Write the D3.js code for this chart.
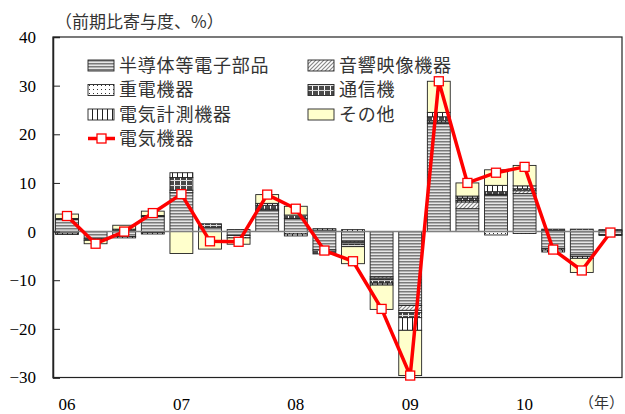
<!DOCTYPE html>
<html><head><meta charset="utf-8">
<script src="https://cdn.jsdelivr.net/npm/d3@7/dist/d3.min.js"></script>
<style>
body{margin:0;background:#fff;}
svg{display:block;}
</style></head>
<body>
<svg id="c" width="625" height="414"></svg>
<script>
const quarters = ["06Q1","06Q2","06Q3","06Q4","07Q1","07Q2","07Q3","07Q4","08Q1","08Q2","08Q3","08Q4","09Q1","09Q2","09Q3","09Q4","10Q1","10Q2","10Q3","10Q4"];
const yearLabels = ["06","07","08","09","10"];
const yTicks = [-30,-20,-10,0,10,20,30,40];
const seriesNames = ["半導体等電子部品","音響映像機器","重電機器","通信機","電気計測機器","その他"];
const lineName = "電気機器";
const semi  = [2.5,-1.5,-1.0,3.1,8.0,0.9,-0.8,4.3,2.7,-3.8,-2.0,-9.3,-15.2,22.2,4.7,7.5,7.8,-3.5,-4.8,-0.6];
const av    = [0,0,0.2,0,0,0,0,0,0,0,-0.3,-0.3,-1.0,0.3,1.4,0.2,0.6,0.2,0,-0.2];
const heavy = [-0.3,0,0,-0.2,0.5,0,-0.5,0.3,-0.5,0.3,-0.3,-0.3,-0.5,0.3,0.3,-0.7,-0.4,-0.3,-0.3,0];
const comm  = [0.2,-0.3,0.3,0.2,2.6,0.7,0.4,0.8,0.7,-0.8,-0.5,-0.7,-1.0,0.8,0.5,0.5,0.4,0.3,0.5,0.2];
const meas  = [-0.3,0,-0.3,-0.3,1.0,0,0,0.4,-0.4,0.3,0.4,-0.4,-2.6,0.9,0.4,1.3,0.6,-0.4,-0.4,0.2];
const other = [0.9,-0.7,0.8,0.9,-4.5,-3.6,-1.3,1.8,1.8,0,-3.5,-5.0,-9.3,6.4,2.7,3.2,4.2,0,-2.9,0];
const total = [3.2,-2.5,0.0,3.8,7.7,-2.0,-2.1,7.6,4.7,-3.9,-6.1,-15.9,-29.6,30.9,10.0,12.1,13.3,-3.7,-8.0,-0.2];

const series = [semi,av,heavy,comm,meas,other];
const fills = ["url(#pSemi)","url(#pAv)","url(#pHeavy)","url(#pComm)","url(#pMeas)","#ffffcc"];

const svg = d3.select("#c");
const L=53, R=622, T=37, B=377.5;
const x = d3.scaleBand().domain(quarters).range([52.7,624.7]).paddingInner(0.2).paddingOuter(0.1);
const y = d3.scaleLinear().domain([-30,40]).range([B,T]);

// patterns
const defs = svg.append("defs");
let p = defs.append("pattern").attr("id","pSemi").attr("patternUnits","userSpaceOnUse").attr("width",4).attr("height",3);
p.append("rect").attr("width",4).attr("height",3).attr("fill","#e6e6e6");
p.append("rect").attr("y",0).attr("width",4).attr("height",1.5).attr("fill","#7a7a7a");
p = defs.append("pattern").attr("id","pAv").attr("patternUnits","userSpaceOnUse").attr("width",4).attr("height",4);
p.append("rect").attr("width",4).attr("height",4).attr("fill","#fff");
p.append("path").attr("d","M-1,5 L5,-1 M-1,1 L1,-1 M3,5 L5,3").attr("stroke","#888").attr("stroke-width",1.2);
p = defs.append("pattern").attr("id","pHeavy").attr("patternUnits","userSpaceOnUse").attr("width",4).attr("height",4);
p.append("rect").attr("width",4).attr("height",4).attr("fill","#fff");
p.append("rect").attr("x",1).attr("y",1).attr("width",1).attr("height",1).attr("fill","#333");
p = defs.append("pattern").attr("id","pComm").attr("patternUnits","userSpaceOnUse").attr("width",6).attr("height",5);
p.append("rect").attr("width",6).attr("height",5).attr("fill","#4a4a4a");
p.append("rect").attr("x",0).attr("width",1).attr("height",5).attr("fill","#fff");
p.append("rect").attr("y",0).attr("width",6).attr("height",1).attr("fill","#ddd");
p = defs.append("pattern").attr("id","pMeas").attr("patternUnits","userSpaceOnUse").attr("width",5).attr("height",4);
p.append("rect").attr("width",5).attr("height",4).attr("fill","#fff");
p.append("rect").attr("x",2).attr("width",1).attr("height",4).attr("fill","#222");

// bars
const g = svg.append("g");
quarters.forEach((q,i)=>{
  let pos=0, neg=0;
  series.forEach((s,k)=>{
    const v = s[i];
    if(!v) return;
    let y0,y1;
    if(v>0){ y0=pos; y1=pos+v; pos=y1; } else { y0=neg; y1=neg+v; neg=y1; }
    g.append("rect").attr("x",x(q)).attr("width",x.bandwidth())
      .attr("y",y(Math.max(y0,y1))).attr("height",Math.abs(y(y0)-y(y1)))
      .attr("fill",fills[k]).attr("stroke","#222").attr("stroke-width",0.9);
  });
});

// zero line
svg.append("line").attr("x1",L).attr("x2",R).attr("y1",y(0)).attr("y2",y(0)).attr("stroke","#808080").attr("stroke-width",1.5);

// frame
svg.append("rect").attr("x",L).attr("y",T).attr("width",R-L).attr("height",B-T).attr("fill","none").attr("stroke","#222").attr("stroke-width",1.2);

// y axis
const yAxis = d3.axisLeft(y).tickValues(yTicks).tickSize(-7).tickPadding(17).tickFormat(d3.format("d"));
const ya = svg.append("g").attr("transform",`translate(${L},0)`).call(yAxis);
ya.select(".domain").attr("stroke","#222").attr("stroke-width",1.5);
ya.selectAll(".tick line").attr("stroke","#222");
ya.selectAll("text").attr("font-family","'Liberation Serif', serif").attr("font-size",17).attr("fill","#000");

// x labels
const xa = d3.axisBottom(x).tickValues(quarters.filter(q=>q.endsWith("Q1"))).tickSize(0).tickPadding(20)
  .tickFormat(q=>yearLabels[quarters.filter(d=>d.endsWith("Q1")).indexOf(q)]);
const xg = svg.append("g").attr("transform",`translate(0,${B})`).call(xa);
xg.select(".domain").remove();
xg.selectAll("text").attr("font-family","'Liberation Serif', serif").attr("font-size",17).attr("fill","#000");
svg.append("text").attr("x",624).attr("y",408).attr("text-anchor","end")
  .attr("font-family","'Noto Sans CJK JP', sans-serif").attr("font-size",15).attr("fill","#333").text("（年）");

// y title
svg.append("text").attr("x",55).attr("y",28).attr("font-family","'Noto Sans CJK JP', sans-serif")
  .attr("font-size",17).attr("fill","#333").text("（前期比寄与度、%）");

// line
const line = d3.line().x((d,i)=>x(quarters[i])+x.bandwidth()/2).y(d=>y(d));
svg.append("path").datum(total).attr("d",line).attr("fill","none").attr("stroke","#ff0000").attr("stroke-width",3.5).attr("stroke-linejoin","round");
svg.selectAll("rect.mk").data(total).enter().append("rect").attr("class","mk")
  .attr("x",(d,i)=>x(quarters[i])+x.bandwidth()/2-4.5).attr("y",d=>y(d)-4.5)
  .attr("width",9).attr("height",9).attr("fill","#fff").attr("stroke","#ff0000").attr("stroke-width",1.3);

// legend
const leg = svg.append("g");
const legItems = [
  {name:seriesNames[0],fill:fills[0],x:88,y:65.5},
  {name:seriesNames[2],fill:fills[2],x:88,y:90},
  {name:seriesNames[4],fill:fills[4],x:88,y:114.5},
  {name:seriesNames[1],fill:fills[1],x:308,y:65.5},
  {name:seriesNames[3],fill:fills[3],x:308,y:90},
  {name:seriesNames[5],fill:fills[5],x:308,y:114.5}
];
legItems.forEach(it=>{
  leg.append("rect").attr("x",it.x).attr("y",it.y-5.5).attr("width",26).attr("height",11)
    .attr("fill",it.fill).attr("stroke","#222").attr("stroke-width",0.9);
  leg.append("text").attr("x",it.x+31).attr("y",it.y).attr("dy","0.36em")
    .attr("font-family","'Noto Sans CJK JP', sans-serif").attr("font-size",18).attr("letter-spacing",0.8)
    .attr("fill","#333").text(it.name);
});
leg.append("line").attr("x1",88).attr("x2",115).attr("y1",138.5).attr("y2",138.5).attr("stroke","#ff0000").attr("stroke-width",3.5);
leg.append("rect").attr("x",97).attr("y",134).attr("width",9).attr("height",9).attr("fill","#fff").attr("stroke","#ff0000").attr("stroke-width",1.3);
leg.append("text").attr("x",119).attr("y",138.5).attr("dy","0.36em")
  .attr("font-family","'Noto Sans CJK JP', sans-serif").attr("font-size",18).attr("letter-spacing",0.8)
  .attr("fill","#333").text(lineName);
</script>
</body></html>
